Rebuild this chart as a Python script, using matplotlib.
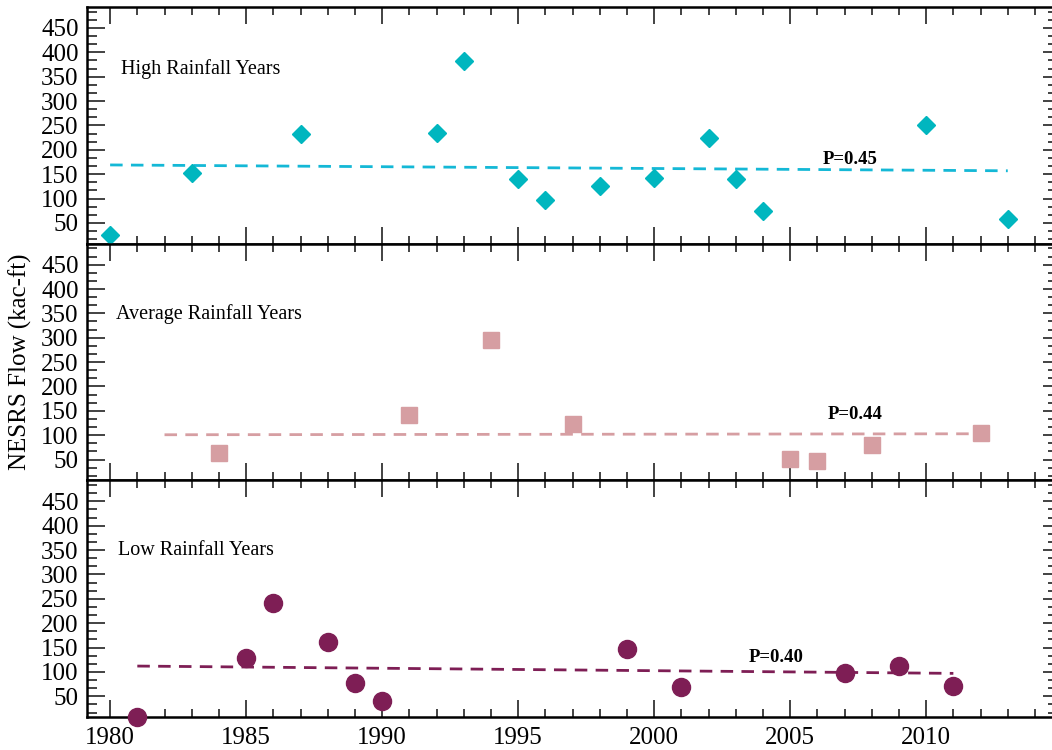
import matplotlib
matplotlib.use("Agg")
import matplotlib.pyplot as plt
from matplotlib.ticker import MultipleLocator, FixedLocator, NullFormatter

plt.rcParams['font.family'] = ['Liberation Serif', 'DejaVu Serif']

# ---- data ----
high_years = [1980, 1983, 1987, 1992, 1993, 1995, 1996, 1998, 2000, 2002, 2003, 2004, 2010, 2013]
high_flow = [25, 153, 233, 234, 382, 140, 97, 126, 142, 225, 140, 74, 250, 58]
avg_years = [1984, 1991, 1994, 1997, 2005, 2006, 2008, 2012]
avg_flow = [63, 142, 296, 124, 52, 47, 81, 105]
low_years = [1981, 1985, 1986, 1988, 1989, 1990, 1999, 2001, 2007, 2009, 2011]
low_flow = [8, 128, 242, 161, 78, 41, 148, 70, 98, 112, 72]

# trend lines (start/end year, start/end value)
high_trend_x = [1980, 2013]
high_trend_y = [169, 157]
avg_trend_x = [1982, 2012]
avg_trend_y = [101, 103]
low_trend_x = [1981, 2011]
low_trend_y = [112, 97]

panel_titles = ["High Rainfall Years", "Average Rainfall Years", "Low Rainfall Years"]
p_labels = ["P=0.45", "P=0.44", "P=0.40"]
y_label = "NESRS Flow (kac-ft)"

# ---- styling ----
W, H = 1052, 750
fig = plt.figure(figsize=(W / 100, H / 100), dpi=100)
left_px, right_px = 87, 1054
top_px, bot_px = 7, 717
ph = (bot_px - top_px) / 3

colors = ['#00B6BF', '#D69EA2', '#7E1E55']
line_colors = ['#14B8D6', '#D69EA2', '#7E1E55']
markers = ['D', 's', 'o']
msizes = [9.6, 12, 13]
years = [high_years, avg_years, low_years]
flows = [high_flow, avg_flow, low_flow]
trends_x = [high_trend_x, avg_trend_x, low_trend_x]
trends_y = [high_trend_y, avg_trend_y, low_trend_y]
title_pos = [(1980.4, 366), (1980.2, 349), (1980.3, 350)]
p_pos = [(2007.2, 180), (2007.4, 142), (2004.5, 129)]

axes = []
for i in range(3):
    y0 = 1 - (top_px + (i + 1) * ph) / H
    ax = fig.add_axes([left_px / W, y0, (right_px - left_px) / W, ph / H])
    axes.append(ax)
    ax.plot(trends_x[i], trends_y[i], ls=(0, (4.5, 3.0)), color=line_colors[i], lw=2.0, zorder=2)
    ax.plot(years[i], flows[i], ls='none', marker=markers[i], ms=msizes[i],
            color=colors[i], mec=colors[i], zorder=3, clip_on=False)
    ax.set_xlim(1979.15, 2014.70)
    ax.set_ylim(7.5, 493)
    ax.xaxis.set_major_locator(MultipleLocator(5))
    ax.xaxis.set_minor_locator(MultipleLocator(1))
    ax.yaxis.set_major_locator(FixedLocator([50, 100, 150, 200, 250, 300, 350, 400, 450]))
    ax.yaxis.set_minor_locator(MultipleLocator(50 / 3))
    ax.tick_params(axis='x', which='both', direction='in', top=True, bottom=True,
                   labelsize=18, pad=7, color='#222222')
    ax.tick_params(axis='x', which='major', length=12.5, width=1.2)
    ax.tick_params(axis='x', which='minor', length=6, width=1.2)
    ax.tick_params(axis='y', which='both', direction='in', left=True, right=False,
                   labelsize=18, pad=6, color='#222222')
    ax.tick_params(axis='y', which='major', length=13, width=1.2)
    ax.tick_params(axis='y', which='minor', length=7, width=1.2)
    for s in ax.spines.values():
        s.set_linewidth(1.8)
    sec = ax.secondary_yaxis('right')
    sec.yaxis.set_major_locator(FixedLocator([50, 100, 150, 200, 250, 300, 350, 400, 450]))
    sec.yaxis.set_minor_locator(MultipleLocator(50 / 3))
    sec.yaxis.set_major_formatter(NullFormatter())
    sec.tick_params(axis='y', which='both', direction='in', color='#222222', width=1.2)
    sec.tick_params(axis='y', which='major', length=8)
    sec.tick_params(axis='y', which='minor', length=4.2)
    sec.spines['right'].set_linewidth(1.8)
    if i < 2:
        ax.tick_params(axis='x', labelbottom=False)
    ax.text(title_pos[i][0], title_pos[i][1], panel_titles[i], fontsize=14.5,
            ha='left', va='center')
    ax.text(p_pos[i][0], p_pos[i][1], p_labels[i], fontsize=13.5, fontweight='bold',
            ha='center', va='center')

fig.text(20 / W, 1 - (top_px + 1.5 * ph) / H, y_label, rotation=90, fontsize=18,
         ha='center', va='center')

fig.savefig('out.png', dpi=100)
